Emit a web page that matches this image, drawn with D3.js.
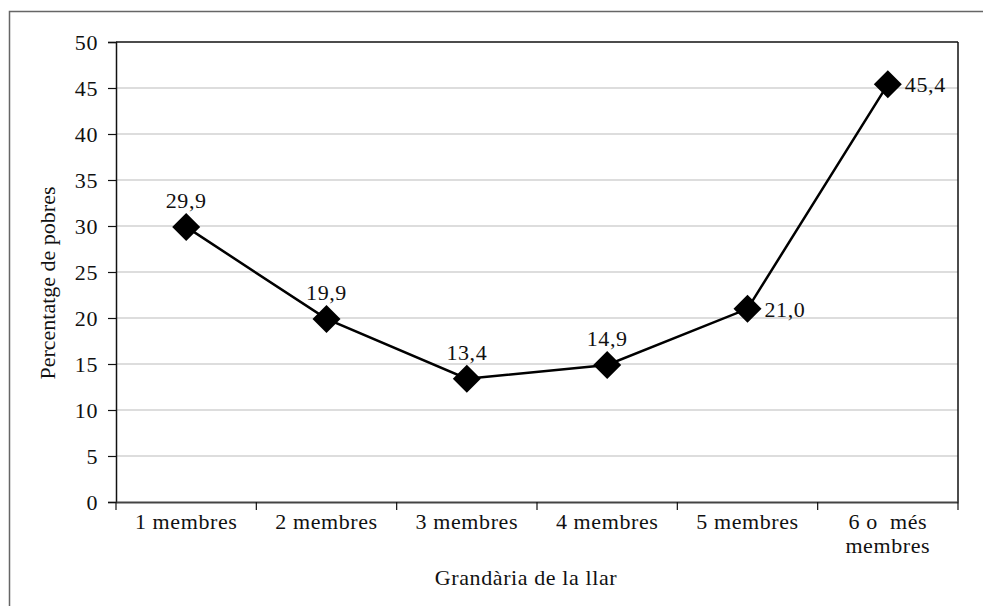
<!DOCTYPE html>
<html><head><meta charset="utf-8">
<script src="https://cdn.jsdelivr.net/npm/d3@7"></script>
<style>
body{margin:0;background:#fff;}
text{font-family:"Liberation Serif","DejaVu Serif",serif;fill:#111;letter-spacing:0.6px;}
</style></head>
<body><svg id="c" width="983" height="606"></svg>
<script>
const categories = ["1 membres","2 membres","3 membres","4 membres","5 membres","6 o  més|membres"];
const values = [29.9, 19.9, 13.4, 14.9, 21.0, 45.4];
const valueLabels = ["29,9","19,9","13,4","14,9","21,0","45,4"];
const labelPos = ["top","top","top","top","right","right"];
const yTicks = [0,5,10,15,20,25,30,35,40,45,50];

const FS = "22px";
const svg = d3.select("#c");
const L=116, R=958, T=42, B=502;
svg.append("rect").attr("x",9.5).attr("y",11.5).attr("width",1000).attr("height",1000)
  .attr("fill","none").attr("stroke","#666").attr("stroke-width",1.5);

const x = d3.scaleBand().domain(categories).range([L,R]);
const y = d3.scaleLinear().domain([0,50]).range([B,T]);

svg.append("g").selectAll("line").data(yTicks.filter(d=>d>0)).join("line")
  .attr("x1",L).attr("x2",R).attr("y1",d=>y(d)).attr("y2",d=>y(d))
  .attr("stroke",d=>d===50?"#111":"#bbb").attr("stroke-width",d=>d===50?1.5:1.2);
svg.append("line").attr("x1",R).attr("x2",R).attr("y1",T).attr("y2",B).attr("stroke","#111").attr("stroke-width",1.5);

const ya = svg.append("g").attr("transform",`translate(${L},0)`)
  .call(d3.axisLeft(y).tickValues(yTicks).tickSize(8).tickPadding(10).tickFormat(d3.format("d")));
ya.select(".domain").attr("stroke","#111").attr("stroke-width",1.5);
ya.selectAll(".tick line").attr("stroke","#111").attr("stroke-width",1.2);
ya.selectAll("text").style("font-size",FS).attr("fill","#111").style("font-family","Liberation Serif, serif").attr("dy","0.34em");

const xa = svg.append("g").attr("transform",`translate(0,${B})`)
  .call(d3.axisBottom(x).tickSize(0).tickFormat(""));
xa.select(".domain").attr("stroke","#444").attr("stroke-width",2);
const bounds = [L].concat(categories.map(c=>x(c)+x.bandwidth()));
svg.append("g").selectAll("line").data(bounds).join("line")
  .attr("x1",d=>d).attr("x2",d=>d).attr("y1",B).attr("y2",B+8)
  .attr("stroke","#111").attr("stroke-width",1.2);
const xl = svg.append("g").selectAll("text").data(categories).join("text")
  .attr("x",c=>x(c)+x.bandwidth()/2).attr("y",529)
  .attr("text-anchor","middle").style("font-size",FS);
xl.each(function(c){
  const parts=c.split("|");
  const t=d3.select(this);
  parts.forEach((p,i)=>t.append("tspan").attr("x",x(c)+x.bandwidth()/2).attr("dy",i===0?0:24).attr("xml:space","preserve").text(p));
});

svg.append("text").attr("x",526).attr("y",585).attr("text-anchor","middle").style("font-size",FS).text("Grandària de la llar");
svg.append("text").attr("transform","translate(55,283) rotate(-90)").attr("text-anchor","middle")
  .style("font-size",FS).style("letter-spacing","0px").text("Percentatge de pobres");

const cx = c=>x(c)+x.bandwidth()/2;
svg.append("path").datum(values)
  .attr("d",d3.line().x((d,i)=>cx(categories[i])).y(d=>y(d)))
  .attr("fill","none").attr("stroke","#000").attr("stroke-width",2.5);
svg.append("g").selectAll("path").data(values).join("path")
  .attr("transform",(d,i)=>`translate(${cx(categories[i])},${y(d)})`)
  .attr("d","M0,-14L14,0L0,14L-14,0Z").attr("fill","#000");
svg.append("g").selectAll("text").data(values).join("text")
  .attr("x",(d,i)=>labelPos[i]==="right"?cx(categories[i])+17:cx(categories[i]))
  .attr("y",(d,i)=>labelPos[i]==="right"?y(d)+8:y(d)-19)
  .attr("text-anchor",(d,i)=>labelPos[i]==="right"?"start":"middle")
  .style("font-size",FS).text((d,i)=>valueLabels[i]);
</script></body></html>
